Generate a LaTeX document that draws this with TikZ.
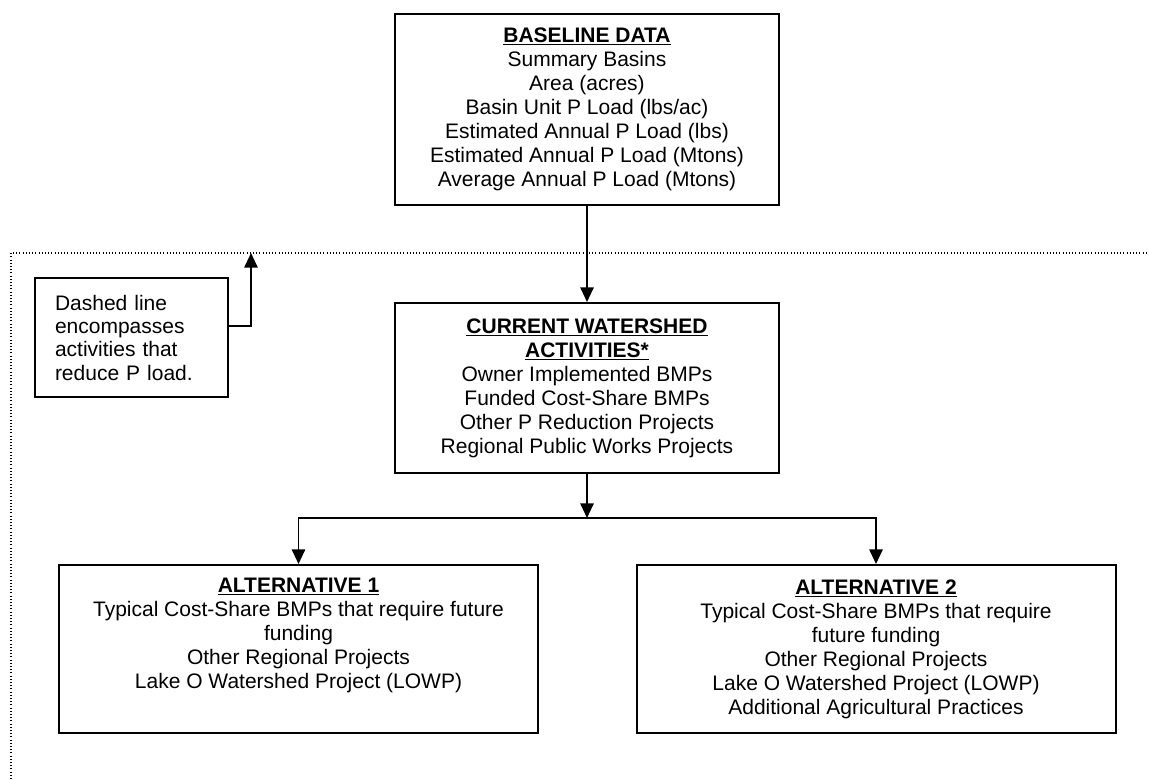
\documentclass[tikz,border=0pt]{standalone}
\usepackage{fontspec}
\setmainfont{Liberation Sans}
\usetikzlibrary{positioning,arrows.meta}

\begin{document}
\begin{tikzpicture}[
    x=0.75pt, y=-0.75pt,
    boxnode/.style={rectangle, draw=black, line width=1.5pt, align=center, inner sep=0pt, font=\fontsize{15.75}{18}\selectfont},
    notenode/.style={rectangle, draw=black, line width=1.5pt, align=left, text width=114.75pt, inner xsep=15pt, inner ysep=0pt, minimum height=89.25pt, font=\fontsize{15.75}{17.5}\selectfont},
    linkline/.style={draw=black, line width=1.4pt},
    dotline/.style={draw=black, line width=0.8pt, dash pattern=on 0.8pt off 1.6pt},
    >={Triangle[length=11pt, width=10pt]}
    ]
        \useasboundingbox (0,0) rectangle (1149,779);
        %Nodes
        \node[boxnode, minimum width=288pt, minimum height=143.25pt]
            (mBase) at (587,109.5) {\underline{\textbf{BASELINE DATA}}\\ Summary Basins\\ Area (acres)\\ Basin Unit P Load (lbs/ac)\\ Estimated Annual P Load (lbs)\\ Estimated Annual P Load (Mtons)\\ Average Annual P Load (Mtons)};
        \node[boxnode, minimum width=288pt, minimum height=127.5pt]
            (mCur) [below=72pt of mBase] {\underline{\textbf{CURRENT WATERSHED}}\\ \underline{\textbf{ACTIVITIES*}}\\ Owner Implemented BMPs\\ Funded Cost-Share BMPs\\ Other P Reduction Projects\\ Regional Public Works Projects};
        \node[boxnode, minimum width=359.25pt, minimum height=126pt]
            (mAlt1) at (298.5,649) {\underline{\textbf{ALTERNATIVE 1}}\\ Typical Cost-Share BMPs that require future\\ funding\\ Other Regional Projects\\ Lake O Watershed Project (LOWP)\\ \strut};
        \node[boxnode, minimum width=359.25pt, minimum height=126pt]
            (mAlt2) at (876,649) {\underline{\textbf{ALTERNATIVE 2}}\\ Typical Cost-Share BMPs that require\\ future funding\\ Other Regional Projects\\ Lake O Watershed Project (LOWP)\\ Additional Agricultural Practices};
        \node[notenode]
            (mNote) at (131.5,337.5) {Dashed line\\ encompasses\\ activities that\\ reduce P load.};
        \coordinate (mSplit) at (587,518);
        \coordinate (mDotTop) at (251,253);

        %Lines
        \draw[dotline] (11,779) |- (1149,253);
        \draw[->, linkline] 
            (mBase.south) -- (mCur.north);
        \draw[->, linkline] 
            (mCur.south) -- (mSplit);
        \draw[<->, linkline] 
            (mAlt1.north) |- (mSplit) -| (mAlt2.north);
        \draw[->, linkline] 
            ([yshift=8.6pt]mNote.east) -| (mDotTop);
    \end{tikzpicture}
\end{document}
